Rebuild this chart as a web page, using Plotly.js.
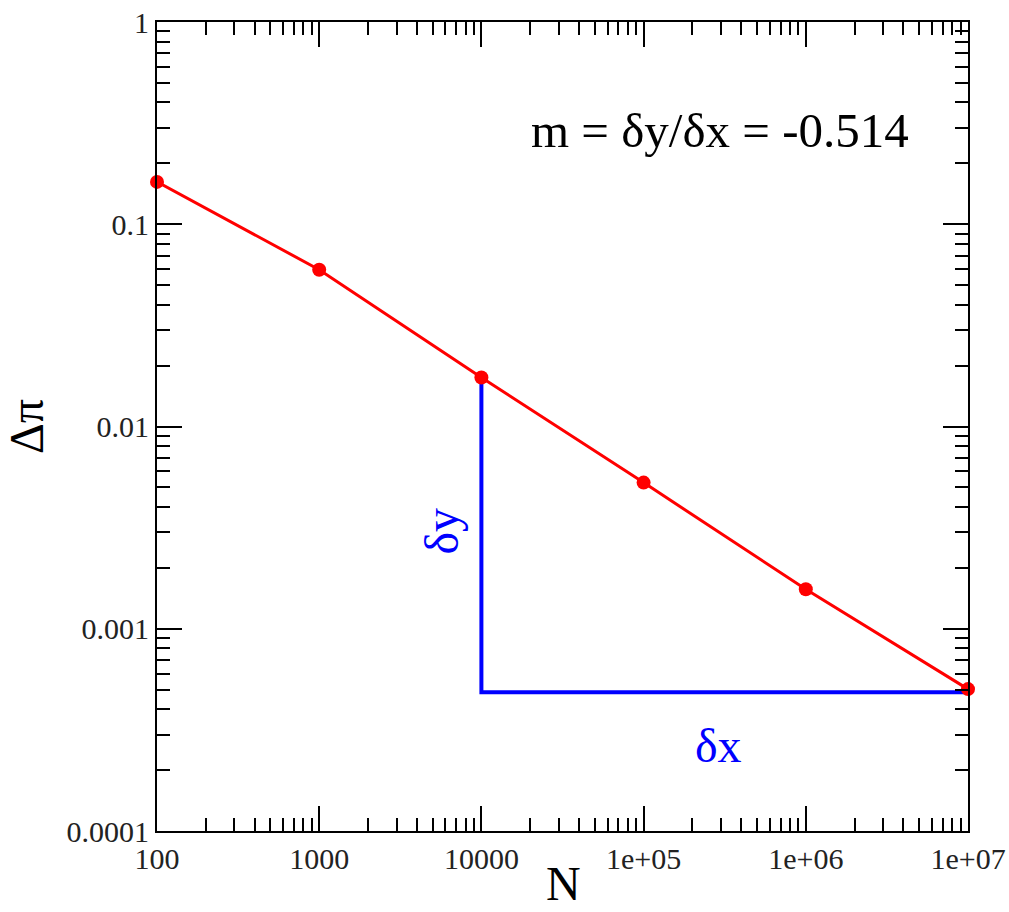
<!DOCTYPE html>
<html>
<head>
<meta charset="utf-8">
<script src="https://cdn.plot.ly/plotly-3.0.1.min.js"></script>
<style>html,body{margin:0;padding:0;background:#fff;}#chart{width:1009px;height:912px;}</style>
</head>
<body>
<div id="chart"></div>
<script>
// Data
const N = [100, 1000, 10000, 100000, 1000000, 10000000];
const deltaPi = [0.162, 0.0596, 0.01746, 0.00528, 0.001567, 0.000503];
const slopeX = [10000, 10000, 10000000];
const slopeY = [0.01746, 0.000486, 0.000486];
const xTickVals = [100, 1000, 10000, 100000, 1000000, 10000000];
const xTickText = ['100', '1000', '10000', '1e+05', '1e+06', '1e+07'];
const yTickVals = [0.0001, 0.001, 0.01, 0.1, 1];
const yTickText = ['0.0001', '0.001', '0.01', '0.1', '1'];

const font = 'Liberation Serif';

const traces = [
  {
    x: slopeX, y: slopeY, mode: 'lines', type: 'scatter',
    line: {color: '#0000ff', width: 4}, hoverinfo: 'skip', showlegend: false
  },
  {
    x: N, y: deltaPi, mode: 'lines+markers', type: 'scatter',
    line: {color: '#ff0000', width: 3},
    marker: {color: '#ff0000', size: 14, symbol: 'circle'},
    cliponaxis: false,
    showlegend: false
  }
];

const axisCommon = {
  type: 'log',
  showline: true, linecolor: '#000', linewidth: 2,
  mirror: 'ticks',
  ticks: 'inside', ticklen: 25, tickwidth: 2, tickcolor: '#000',
  showgrid: false, zeroline: false,
  tickfont: {family: font, size: 30, color: '#222'},
  minor: {ticks: 'inside', ticklen: 13, tickwidth: 2, tickcolor: '#000', dtick: 'D1', showgrid: false}
};

const layout = {
  width: 1009, height: 912,
  margin: {l: 157, r: 41, t: 22, b: 81},
  paper_bgcolor: '#fff', plot_bgcolor: '#fff',
  font: {family: font, color: '#000'},
  xaxis: Object.assign({}, axisCommon, {
    range: [2, 7],
    tickmode: 'array', tickvals: xTickVals, ticktext: xTickText
  }),
  yaxis: Object.assign({}, axisCommon, {
    range: [-4, 0],
    tickmode: 'array', tickvals: yTickVals, ticktext: yTickText,
    title: {text: 'Δπ', font: {family: font, size: 48, color: '#000'}, standoff: 10}
  }),
  annotations: [
    {
      xref: 'paper', yref: 'paper', x: 0.501, y: -0.1,
      text: 'N', showarrow: false,
      font: {family: font, size: 48, color: '#000'}, xanchor: 'center', yanchor: 'bottom'
    },
    {
      xref: 'paper', yref: 'paper', x: 0.694, y: 0.866,
      text: 'm = δy/δx = -0.514', showarrow: false,
      font: {family: font, size: 49, color: '#000'}, xanchor: 'center', yanchor: 'middle'
    },
    {
      xref: 'paper', yref: 'paper', x: 0.351, y: 0.371,
      text: 'δy', showarrow: false, textangle: -90,
      font: {family: font, size: 48, color: '#0000ff'}, xanchor: 'center', yanchor: 'middle'
    },
    {
      xref: 'paper', yref: 'paper', x: 0.692, y: 0.106,
      text: 'δx', showarrow: false,
      font: {family: font, size: 48, color: '#0000ff'}, xanchor: 'center', yanchor: 'middle'
    }
  ]
};

Plotly.newPlot('chart', traces, layout, {displayModeBar: false, staticPlot: true});
</script>
</body>
</html>
